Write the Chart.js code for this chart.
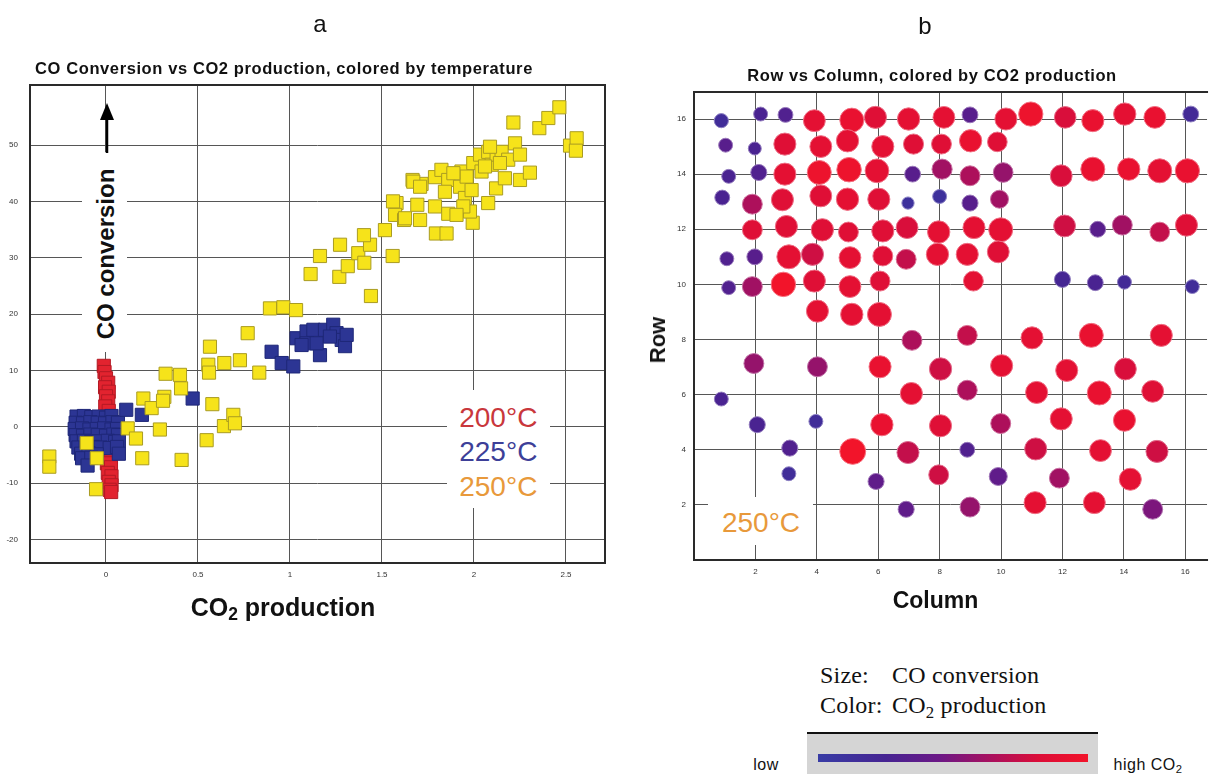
<!DOCTYPE html>
<html lang="en">
<head>
<meta charset="utf-8">
<title>CO conversion and CO2 production</title>
<script src="https://cdn.jsdelivr.net/npm/chart.js@4.4.1/dist/chart.umd.min.js"></script>
<style>
  html, body { margin: 0; padding: 0; background: #ffffff; }
  body { position: relative; width: 1221px; height: 774px; overflow: hidden;
         font-family: "Liberation Sans", Arial, Helvetica, sans-serif; color: #111; }
  canvas { position: absolute; }
  #chartA { left: 0; top: 0; }
  #chartB { left: 640px; top: 0; }
  .t { position: absolute; white-space: nowrap; line-height: 1; transform: translate(-50%, -50%); }
  .panel { font-size: 24px; }
  .title { font-size: 16.5px; font-weight: bold; letter-spacing: 0.6px; }
  .axis { font-weight: bold; }
  .rot { transform: translate(-50%, -50%) rotate(-90deg); }
  .mask { position: absolute; background: #fff; }
  .temp { font-size: 28px; }
  .serif { position: absolute; font-family: "Liberation Serif", "Times New Roman", serif;
           font-size: 24px; line-height: 1; white-space: nowrap; color: #111; letter-spacing: 0.2px; }
  .small { font-size: 16px; letter-spacing: 0.5px; }
  sub { font-size: 0.7em; vertical-align: -0.28em; line-height: 0; }
</style>
</head>
<body>
<canvas id="chartA" width="620" height="640"></canvas>
<canvas id="chartB" width="581" height="640"></canvas>

<!-- panel letters and titles -->
<div class="t panel" style="left:320px; top:24px;">a</div>
<div class="t panel" style="left:925px; top:26px;">b</div>
<div class="t title" style="left:284px; top:68px;">CO Conversion vs CO2 production, colored by temperature</div>
<div class="t title" style="left:932px; top:75px;">Row vs Column, colored by CO2 production</div>

<!-- panel a: axis titles and temperature key -->
<div class="mask" style="left:82px; top:152px; width:45px; height:200px;"></div>
<svg style="position:absolute; left:99px; top:103px;" width="16" height="52">
  <polygon points="8,0 15,17 1,17" fill="#000"/>
  <line x1="8" y1="15" x2="8" y2="50" stroke="#000" stroke-width="2.5"/>
</svg>
<div class="t axis rot" style="left:105.5px; top:254px; font-size:24px;">CO conversion</div>
<div class="t axis" style="left:283px; top:607px; font-size:25px;">CO<sub>2</sub> production</div>
<div class="mask" style="left:447px; top:390px; width:103px; height:118px;"></div>
<div id="tempKey"></div>

<!-- panel b: axis titles and temperature note -->
<div class="t axis rot" style="left:658px; top:340px; font-size:22px;">Row</div>
<div class="t axis" style="left:935.5px; top:600px; font-size:23px;">Column</div>
<div class="mask" style="left:708px; top:497px; width:105px; height:48px;"></div>
<div class="t temp" style="left:761px; top:523px; color:#e8993b;">250°C</div>

<!-- size / colour key -->
<div class="serif" style="left:820px; top:663px;">Size:</div>
<div class="serif" style="left:892px; top:663px;">CO conversion</div>
<div class="serif" style="left:820px; top:693px;">Color:</div>
<div class="serif" style="left:892px; top:693px;">CO<sub>2</sub> production</div>
<div style="position:absolute; left:807px; top:732px; width:291px; height:50px; background:#d5d5d5; border-top:2px solid #111;"></div>
<div id="ramp" style="position:absolute; left:818px; top:754px; width:270px; height:8px;"></div>
<div class="t small" style="left:766px; top:765px;">low</div>
<div class="t small" style="left:1148px; top:765px;">high CO<sub>2</sub></div>

<script>
// ---------- panel a: CO2 production (x) vs CO conversion (y) ----------
const temperatureLabels = ['200°C', '225°C', '250°C'];
const temperatureColors = ['#c9373c', '#3d3f98', '#e8993b'];

const co2At200 = [-0.012, -0.008, 0.0, 0.012, -0.005, 0.015, 0.0, 0.012, -0.004, 0.015, 0.005, 0.02,
                  0.0, 0.025, 0.005, 0.027, 0.01, 0.03, 0.015, 0.03, 0.02, 0.028];
const convAt200 = [10.8, 9.7, 8.6, 7.8, 7.0, 6.2, 5.4, 4.5, 3.6, 2.8, 1.8, 0.5,
                   -5.0, -5.5, -6.5, -7.2, -8.2, -8.8, -9.8, -10.4, -11.2, -11.6];

const co2At225 = [-0.16, -0.12, -0.08, -0.04, 0.0, 0.03,
                  -0.165, -0.125, -0.085, -0.045, -0.005, 0.035, 0.065,
                  -0.17, -0.13, -0.09, -0.05, -0.01, 0.03, 0.06,
                  -0.165, -0.125, -0.085, -0.045, 0.0, 0.04, 0.065,
                  -0.16, -0.12, -0.08, -0.04, 0.01, 0.05, 0.07,
                  -0.15, -0.11, -0.07, -0.03, 0.02, 0.06,
                  -0.135, -0.095, -0.05, 0.07,
                  -0.13, -0.08, -0.1,
                  0.11, 0.195, 0.471,
                  0.9, 0.955, 1.018, 1.036, 1.09, 1.09, 1.127, 1.163, 1.19, 1.235, 1.253, 1.281,
                  1.299, 1.308, 1.145, 1.063, 1.217];
const convAt225 = [1.8, 1.9, 1.7, 1.8, 1.6, 1.9,
                   0.7, 0.6, 0.8, 0.7, 0.6, 0.8, 0.7,
                   -0.4, -0.3, -0.5, -0.4, -0.3, -0.5, -0.4,
                   -1.5, -1.6, -1.4, -1.5, -1.6, -1.4, -1.5,
                   -2.6, -2.5, -2.7, -2.6, -2.5, -2.7, -2.6,
                   -3.7, -3.8, -3.6, -3.7, -3.8, -3.6,
                   -4.8, -4.7, -4.9, -4.8,
                   -5.6, -5.5, -6.9,
                   3.0, 2.1, 5.0,
                   13.3, 11.3, 10.7, 15.7, 16.9, 14.8, 17.2, 12.7, 17.2, 18.1, 16.6, 15.4,
                   14.3, 16.3, 14.8, 14.5, 16.0];

const co2At250 = [-0.308, -0.308, -0.105, -0.05, -0.054, 0.118, 0.163, 0.197, 0.203, 0.248,
                  0.293, 0.317, 0.31, 0.324, 0.402, 0.408, 0.411, 0.547, 0.578, 0.565,
                  0.556, 0.56, 0.643, 0.641, 0.692, 0.701, 0.728, 0.77, 0.833, 0.891,
                  0.964, 1.033, 1.112, 1.163, 1.272, 1.268, 1.314, 1.371, 1.404, 1.435,
                  1.44, 1.402, 1.558, 1.516, 1.579, 1.571, 1.62, 1.666, 1.715, 1.692,
                  1.707, 1.788, 1.788, 1.793, 1.851, 1.823, 1.86, 1.842, 1.86, 1.924,
                  1.932, 1.951, 1.987, 1.996, 1.993, 1.978, 2.033, 2.041, 2.077, 2.096,
                  2.123, 2.12, 2.077, 2.15, 2.168, 2.186, 2.223, 2.214, 2.25, 2.25,
                  2.304, 2.355, 2.404, 2.464, 2.522, 2.558, 2.554, 1.942, 1.905, 1.96,
                  2.06, 2.141, 1.67, 1.707, 1.888, 2.087, 1.56, 1.625];
const convAt250 = [-5.3, -7.1, -2.9, -5.6, -11.1, -0.3, -2.1, -5.6, 5.0, 3.3,
                   -0.5, 5.3, 4.6, 9.4, 9.2, 6.8, -5.9, -2.4, 4.0, 14.2,
                   11.0, 9.6, 11.3, 0.1, 2.1, 0.6, 11.8, 16.6, 9.6, 21.0,
                   21.2, 20.7, 27.1, 30.3, 32.3, 26.6, 28.5, 30.8, 29.1, 32.3,
                   23.2, 34.0, 30.3, 34.9, 39.7, 37.6, 36.7, 43.8, 43.1, 39.4,
                   36.7, 44.3, 39.1, 34.3, 34.3, 45.6, 43.8, 41.7, 37.8, 42.6,
                   45.3, 40.6, 42.0, 46.8, 36.2, 38.2, 48.3, 45.3, 48.8, 46.5,
                   48.3, 42.3, 39.7, 48.8, 44.1, 47.4, 50.3, 54.0, 48.3, 43.8,
                   45.1, 53.0, 54.8, 56.7, 49.9, 51.2, 49.0, 39.1, 37.6, 44.4,
                   46.2, 46.8, 43.5, 42.6, 45.0, 49.7, 40.0, 37.0];

const co2TicksA = [0, 0.5, 1, 1.5, 2, 2.5];
const convTicksA = [-20, -10, 0, 10, 20, 30, 40, 50];

// ---------- panel b: reactor cell grid ----------
const cellColumn = [
  0.89, 2.17, 2.98, 3.92, 5.14, 5.91, 6.99, 8.14, 8.99, 10.16, 10.97, 12.09, 12.99, 14.03, 15.01, 16.18,
  1.03, 1.98, 2.96, 4.13, 5.0, 6.15, 7.15, 8.06, 9.01, 9.88,
  1.13, 2.11, 2.96, 4.08, 5.05, 5.96, 7.12, 8.08, 8.99, 10.07, 11.96, 12.99, 14.16, 15.17, 16.07,
  0.92, 1.9, 2.88, 4.13, 5.0, 6.02, 6.97, 8.0, 8.99, 9.95,
  1.9, 3.01, 4.18, 5.03, 6.15, 6.94, 7.97, 9.12, 9.99, 12.07, 13.15, 13.95, 15.17, 16.04,
  1.07, 1.98, 3.09, 3.86, 5.08, 6.15, 6.91, 7.93, 8.9, 9.91,
  1.13, 1.9, 2.91, 3.92, 5.08, 6.06, 9.1, 12.0, 13.07, 14.02, 16.23,
  4.02, 5.14, 6.04,
  7.1, 8.9, 11.01, 12.94, 15.22,
  1.95, 4.02, 6.06, 8.03, 10.02, 12.14, 14.05,
  0.89, 7.08, 8.9, 11.16, 13.2, 14.94,
  2.06, 3.97, 6.12, 8.03, 9.99, 11.96, 14.02,
  3.12, 5.17, 6.97, 8.9, 11.13, 13.24, 15.08,
  3.09, 5.93, 7.97, 9.91, 11.9, 14.21,
  6.91, 8.99, 11.11, 13.04, 14.94
];
const cellRow = [
  15.94, 16.18, 16.15, 15.94, 15.96, 16.06, 16.0, 16.06, 16.15, 16.0, 16.18, 16.06, 15.94, 16.18, 16.06, 16.18,
  15.05, 14.93, 15.09, 15.0, 15.21, 15.0, 15.09, 15.09, 15.21, 15.17,
  13.92, 14.06, 14.0, 14.06, 14.16, 14.12, 14.0, 14.18, 13.94, 14.06, 13.94, 14.18, 14.18, 14.12, 14.12,
  13.15, 12.91, 13.07, 13.21, 13.09, 13.09, 12.95, 13.19, 12.95, 13.09,
  11.98, 12.1, 11.98, 11.9, 11.94, 12.06, 11.9, 12.06, 11.98, 12.12, 12.0, 12.15, 11.9, 12.15,
  10.93, 11.0, 11.0, 11.09, 10.97, 11.03, 10.91, 11.09, 11.09, 11.18,
  9.88, 9.92, 10.0, 10.12, 9.92, 10.12, 10.12, 10.18, 10.06, 10.08, 9.92,
  9.03, 8.91, 8.91,
  7.97, 8.15, 8.06, 8.15, 8.15,
  7.13, 7.01, 7.01, 6.93, 7.05, 6.88, 6.93,
  5.84, 6.04, 6.16, 6.08, 6.06, 6.12,
  4.91, 5.03, 4.91, 4.87, 4.95, 5.12, 5.07,
  4.06, 3.94, 3.9, 4.0, 4.03, 3.97, 3.94,
  3.13, 2.85, 3.09, 3.03, 2.97, 2.93,
  1.84, 1.92, 2.08, 2.08, 1.84
];
const cellConversion = [
  9, 8, 12, 41, 50, 42, 43, 41, 16, 42, 51, 40, 42, 43, 41, 16,
  8, 4, 42, 41, 43, 42, 34, 33, 43, 32,
  8, 17, 42, 50, 52, 49, 16, 34, 33, 32, 41, 50, 43, 50, 51,
  12, 33, 42, 41, 43, 42, 1, 8, 17, 25,
  33, 42, 43, 33, 42, 41, 43, 42, 50, 41, 16, 33, 32, 42,
  8, 16, 50, 42, 41, 33, 33, 43, 42, 41,
  8, 33, 52, 42, 41, 33, 33, 17, 16, 8, 8,
  42, 43, 50,
  33, 33, 42, 50, 42,
  33, 33, 42, 43, 42, 42, 41,
  8, 42, 33, 42, 50, 41,
  17, 8, 43, 42, 33, 42, 42,
  17, 58, 42, 12, 42, 41, 42,
  8, 17, 33, 25, 33, 42,
  17, 33, 42, 41, 33
];
const cellCO2 = [
  0.4, 0.7, 0.8, 2.3, 2.4, 2.2, 2.3, 2.3, 0.9, 2.3, 2.5, 2.1, 2.4, 2.3, 2.4, 0.5,
  0.9, 0.7, 2.2, 2.3, 2.3, 2.3, 2.2, 2.2, 2.4, 2.2,
  0.7, 0.8, 2.3, 2.5, 2.5, 2.3, 0.9, 1.6, 1.7, 1.5, 2.1, 2.4, 2.4, 2.3, 2.4,
  0.7, 1.7, 2.2, 2.2, 2.3, 2.2, 0.3, 0.3, 0.9, 1.6,
  2.2, 2.2, 2.2, 2.2, 2.2, 2.1, 2.3, 2.3, 2.3, 2.0, 0.9, 1.6, 1.9, 2.2,
  0.8, 0.9, 2.3, 2.0, 2.3, 2.2, 1.9, 2.3, 2.3, 2.2,
  0.8, 1.6, 2.6, 2.2, 2.3, 2.2, 2.3, 0.6, 0.7, 0.5, 0.4,
  2.3, 2.3, 2.3,
  1.7, 1.9, 2.3, 2.4, 2.3,
  1.5, 1.5, 2.4, 2.0, 2.3, 2.3, 2.1,
  0.7, 2.3, 1.7, 2.3, 2.4, 2.2,
  0.7, 0.4, 2.4, 2.2, 1.7, 2.3, 2.4,
  0.8, 2.6, 1.9, 0.8, 2.0, 2.3, 2.0,
  0.4, 1.0, 2.0, 1.0, 1.6, 2.3,
  1.0, 1.5, 2.3, 2.3, 1.3
];
const gridTicksB = [2, 4, 6, 8, 10, 12, 14, 16];

// ---------- shared helpers ----------
const co2Max = 2.6;
// blue -> purple -> magenta -> red colour ramp for CO2 production
const RAMP = [
  [0.00, [56, 60, 165]],
  [0.25, [70, 36, 146]],
  [0.45, [108, 24, 134]],
  [0.65, [172, 16, 92]],
  [0.82, [220, 14, 56]],
  [1.00, [242, 20, 42]]
];
function rampRGB(t) {
  t = Math.max(0, Math.min(1, t));
  for (let i = 1; i < RAMP.length; i++) {
    const [t1, c1] = RAMP[i];
    const [t0, c0] = RAMP[i - 1];
    if (t <= t1) {
      const f = (t - t0) / (t1 - t0);
      return c0.map((v, k) => Math.round(v + (c1[k] - v) * f));
    }
  }
  return RAMP[RAMP.length - 1][1];
}
const rgb = c => `rgb(${c[0]},${c[1]},${c[2]})`;
const lighten = (c, f) => c.map(v => Math.round(v + (255 - v) * f));
const radiusFor = conv => 6 + 0.12 * conv;

const zip = (xs, ys) => xs.map((x, i) => ({ x, y: ys[i] }));
const fixedTicks = values => scale => { scale.ticks = values.map(value => ({ value })); };
const fmt = v => String(Math.round(v * 100) / 100);

// plot frame drawn around the chart area
const frame = {
  id: 'frame',
  beforeDatasetsDraw(chart, args, opts) {
    const { ctx, chartArea: { left, top, right, bottom } } = chart;
    ctx.save();
    ctx.strokeStyle = opts.color;
    ctx.lineWidth = opts.width;
    ctx.beginPath();
    ctx.moveTo(right + 1, top);
    ctx.lineTo(left, top);
    ctx.lineTo(left, bottom);
    ctx.lineTo(right + 1, bottom);
    if (opts.closed) ctx.moveTo(right, top - 1), ctx.lineTo(right, bottom + 1);
    ctx.stroke();
    ctx.restore();
  }
};

const tickFont = { family: '"Liberation Sans", Arial, sans-serif', size: 8 };
const gridStyle = { color: '#565656', lineWidth: 1, drawTicks: false };

// ---------- panel a ----------
new Chart(document.getElementById('chartA'), {
  type: 'scatter',
  data: {
    datasets: [
      { label: temperatureLabels[2], data: zip(co2At250, convAt250), backgroundColor: '#f6e31a', borderColor: '#aa9c22' },
      { label: temperatureLabels[1], data: zip(co2At225, convAt225), backgroundColor: '#2c3594', borderColor: '#1e2778' },
      { label: temperatureLabels[0], data: zip(co2At200, convAt200), backgroundColor: '#e2232f', borderColor: '#b31a24' }
    ]
  },
  options: {
    responsive: false,
    animation: false,
    events: [],
    layout: { padding: { top: 85, right: 15, bottom: 47, left: 0 } },
    elements: { point: { pointStyle: 'rect', radius: 9.3, borderWidth: 1 } },
    plugins: {
      legend: { display: false },
      tooltip: { enabled: false },
      frame: { color: '#2a2a2a', width: 2, closed: true }
    },
    scales: {
      x: {
        type: 'linear', min: -0.413, max: 2.712,
        afterBuildTicks: fixedTicks(co2TicksA),
        afterFit: s => { s.height = 30; },
        grid: gridStyle, border: { display: false },
        ticks: { autoSkip: false, maxRotation: 0, padding: 7, color: '#333', font: tickFont, callback: fmt }
      },
      y: {
        type: 'linear', min: -24.2, max: 60.66,
        afterBuildTicks: fixedTicks(convTicksA),
        afterFit: s => { s.width = 30; },
        grid: gridStyle, border: { display: false },
        ticks: { autoSkip: false, padding: 12, color: '#333', font: tickFont, callback: fmt }
      }
    }
  },
  plugins: [frame]
});

// temperature key text
const key = document.getElementById('tempKey');
[418.3, 452.2, 487].forEach((y, i) => {
  const d = document.createElement('div');
  d.className = 't temp';
  d.style.left = '498.3px';
  d.style.top = y + 'px';
  d.style.color = temperatureColors[i];
  d.textContent = temperatureLabels[i];
  key.appendChild(d);
});

// ---------- panel b ----------
const fills = cellCO2.map(v => rampRGB(v / co2Max));
new Chart(document.getElementById('chartB'), {
  type: 'bubble',
  data: {
    datasets: [{
      label: temperatureLabels[2],
      data: cellColumn.map((c, i) => ({ x: c, y: cellRow[i], r: radiusFor(cellConversion[i]) })),
      backgroundColor: fills.map(rgb),
      borderColor: fills.map(c => rgb(lighten(c, 0.4))),
      borderWidth: 1
    }]
  },
  options: {
    responsive: false,
    animation: false,
    events: [],
    layout: { padding: { top: 92, right: 0, bottom: 50, left: 0 } },
    plugins: {
      legend: { display: false },
      tooltip: { enabled: false },
      frame: { color: '#2a2a2a', width: 2, closed: false }
    },
    scales: {
      x: {
        type: 'linear', min: 0, max: 16.71,
        afterBuildTicks: fixedTicks(gridTicksB),
        afterFit: s => { s.height = 30; },
        grid: gridStyle, border: { display: false },
        ticks: { autoSkip: false, maxRotation: 0, padding: 7, color: '#333', font: tickFont, callback: fmt }
      },
      y: {
        type: 'linear', min: 0, max: 16.98,
        afterBuildTicks: fixedTicks(gridTicksB),
        afterFit: s => { s.width = 54; },
        grid: gridStyle, border: { display: false },
        ticks: { autoSkip: false, padding: 8, color: '#333', font: tickFont, callback: fmt }
      }
    }
  },
  plugins: [frame]
});

// colour ramp bar for CO2 production
document.getElementById('ramp').style.background =
  'linear-gradient(to right, ' + RAMP.map(([t, c]) => `${rgb(c)} ${t * 100}%`).join(', ') + ')';
</script>
</body>
</html>
